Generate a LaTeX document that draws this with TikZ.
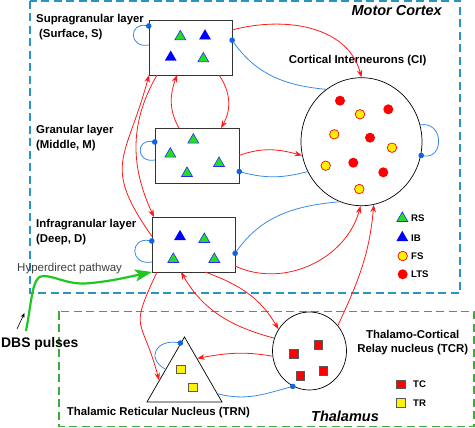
\documentclass[tikz,border=0pt]{standalone}
\usepackage{fontspec}
\setmainfont{Liberation Sans}
\usetikzlibrary{arrows.meta, shapes.geometric, positioning}

\definecolor{ctxblue}{HTML}{2A93C0}
\definecolor{thgreen}{HTML}{3CAA3C}
\definecolor{inhblue}{HTML}{3A8AE6}
\definecolor{dotblue}{HTML}{0F64E6}
\definecolor{excred}{HTML}{FF1A1A}
\definecolor{rsgreen}{HTML}{22DD22}
\definecolor{hypgreen}{HTML}{1FC81F}

\begin{document}
\begin{tikzpicture}[x=1pt, y=-1pt,
    layerbox/.style={draw=black!80, line width=0.9pt, minimum width=83pt, minimum height=55pt, inner sep=0pt, outer sep=0pt},
    exc/.style={excred, line width=0.8pt, -{Stealth[length=7.5pt, width=5.5pt]}},
    inh/.style={inhblue, line width=0.8pt, shorten >=-2.5pt, -{Circle[length=5.5pt, color=dotblue]}},
    rsn/.style={regular polygon, regular polygon sides=3, minimum size=12.7pt, inner sep=0pt, fill=rsgreen, draw=blue!85, line width=0.6pt},
    ibn/.style={regular polygon, regular polygon sides=3, minimum size=12.7pt, inner sep=0pt, fill=blue, draw=blue},
    fsn/.style={circle, minimum size=9.5pt, inner sep=0pt, fill=yellow, draw=red, line width=0.7pt},
    ltsn/.style={circle, minimum size=10pt, inner sep=0pt, fill=red},
    tcn/.style={rectangle, minimum size=8.5pt, inner sep=0pt, fill=red, draw=black!65, line width=0.8pt},
    trnn/.style={rectangle, minimum size=8.5pt, inner sep=0pt, fill=yellow, draw=black!65, line width=0.8pt},
    lbl/.style={font=\fontsize{11.4}{15}\selectfont\bfseries, inner sep=0pt},
    leg/.style={font=\fontsize{9.6}{11}\selectfont\bfseries, inner sep=0pt, anchor=west},
    region/.style={line width=1.1pt, dash pattern=on 8pt off 4.5pt}
]
    \useasboundingbox (0,0) rectangle (475,428);

    % Regions
    \draw[region, ctxblue] (30,1) rectangle (460,293);
    \draw[region, thgreen] (59,311.5) rectangle (474,426.5);
    \node[font=\fontsize{14.5}{17}\selectfont\bfseries\itshape, inner sep=0pt, anchor=east] (MC) at (442,10.5) {Motor Cortex};
    \node[font=\fontsize{14.5}{17}\selectfont\bfseries\itshape, inner sep=0pt] (TH) at (345,416) {Thalamus};

    % Cortical layers
    \node[layerbox] (S) at (190.5,47.5) {};
    \node[layerbox, minimum width=84pt] (M) at (197,155.5) {};
    \node[layerbox] (D) at (193.5,244.5) {};
    \node[lbl, anchor=west, align=left] (Slbl) at (36,27) {Supragranular layer\\\hspace*{3pt}(Surface, S)};
    \node[lbl, anchor=west, align=left] (Mlbl) at (36,138.5) {Granular layer\\(Middle, M)};
    \node[lbl, anchor=west, align=left] (Dlbl) at (36,232) {Infragranular layer\\(Deep, D)};

    % Neurons in the layers
    \node[rsn] (s1) at (180.3,36.7) {};
    \node[ibn] (s2) at (205,36) {};
    \node[ibn] (s3) at (170.7,57.3) {};
    \node[rsn] (s4) at (203.3,58.7) {};
    \node[rsn] (m1) at (193.3,140) {};
    \node[rsn] (m2) at (170.3,154) {};
    \node[rsn] (m3) at (219,163.3) {};
    \node[rsn] (m4) at (187,173.3) {};
    \node[ibn] (d1) at (180,236.7) {};
    \node[rsn] (d2) at (204.3,239.3) {};
    \node[rsn] (d3) at (173.3,259.3) {};
    \node[rsn] (d4) at (214.3,259.3) {};

    % Cortical interneurons
    \node[ellipse, draw, line width=0.7pt, minimum width=121pt, minimum height=128pt, inner sep=0pt] (CI) at (361.5,141.7) {};
    \node[lbl] (CIlbl) at (357.7,60.5) {Cortical Interneurons (CI)};
    \node[ltsn] (c1) at (340,100.7) {};
    \node[ltsn] (c2) at (388.3,109.3) {};
    \node[ltsn] (c3) at (370,137.7) {};
    \node[ltsn] (c4) at (353.3,162.7) {};
    \node[ltsn] (c5) at (383.3,172.3) {};
    \node[fsn] (c6) at (360,114.3) {};
    \node[fsn] (c7) at (334.3,134.3) {};
    \node[fsn] (c8) at (392,147.7) {};
    \node[fsn] (c9) at (325.7,165.7) {};
    \node[fsn] (c10) at (359.3,189) {};

    % Legend for the cortex
    \node[rsn] (kRS) at (402.3,218.3) {};
    \node[ibn] (kIB) at (402.3,237.7) {};
    \node[fsn] (kFS) at (402.7,256) {};
    \node[ltsn] (kLTS) at (402.7,274.3) {};
    \node[leg] (tRS) at (411,218.3) {RS};
    \node[leg] (tIB) at (411,237.7) {IB};
    \node[leg] (tFS) at (411,256) {FS};
    \node[leg] (tLTS) at (411,274.3) {LTS};

    % Thalamus
    \node[ellipse, draw, line width=0.7pt, minimum width=74pt, minimum height=78pt, inner sep=0pt] (TCR) at (309.5,351) {};
    \node[lbl, align=center, font=\fontsize{11.4}{14}\selectfont\bfseries] (TCRlbl) at (412.7,343) {Thalamo-Cortical\\Relay nucleus (TCR)};
    \node[tcn] (t1) at (294,353.7) {};
    \node[tcn] (t2) at (318.3,344.7) {};
    \node[tcn] (t3) at (300.3,375.7) {};
    \node[tcn] (t4) at (323.3,370.7) {};
    \node[regular polygon, regular polygon sides=3, draw, line width=0.7pt, minimum size=86.6pt, inner sep=0pt] (TRN) at (184.5,380.3) {};
    \node[lbl, anchor=west] (TRNlbl) at (66.7,413) {Thalamic Reticular Nucleus (TRN)};
    \node[trnn] (r1) at (181,369.3) {};
    \node[trnn] (r2) at (192.7,387.3) {};
    \node[tcn] (kTC) at (401,384.3) {};
    \node[trnn] (kTR) at (401,402.7) {};
    \node[leg] (tTC) at (413,384.3) {TC};
    \node[leg] (tTR) at (413,402.7) {TR};

    % Self loops
    \draw[inh] ([yshift=-25pt]S.north west) to[out=190, in=170, looseness=2.8] ([yshift=-6pt]S.north west);
    \draw[inh] ([yshift=-32pt]M.north west) to[out=190, in=170, looseness=2.8] ([yshift=-14pt]M.north west);
    \draw[inh] ([yshift=-45pt]D.north west) to[out=190, in=170, looseness=2.8] ([yshift=-24pt]D.north west);
    \draw[inh] (CI.16) to[out=10, in=-10, looseness=2] (CI.-13);
    \draw[inh] (TRN.150) to[out=150, in=170, looseness=2] (TRN.96);

    % Connections inside the cortex
    \draw[exc] ([yshift=-10pt]S.north east) to[out=15, in=105] (CI.north);
    \draw[inh] (CI.124) to[out=175, in=-55] ([yshift=-20pt]S.north east);
    \draw[exc] ([xshift=-13pt]S.south east) to[out=-55, in=60] ([xshift=-18pt]M.north east);
    \draw[exc] ([xshift=24pt]M.north west) to[out=120, in=-110] ([xshift=28pt]S.south west);
    \draw[exc] (M.east) to[out=20, in=165] (CI.193);
    \draw[inh] (CI.209) to[out=195, in=-15] ([yshift=-16pt]M.east);
    \draw[exc] ([yshift=8pt]D.west) to[out=125, in=-105, looseness=1.4] (S.south west);
    \draw[exc] ([xshift=8pt]S.south west) to[out=-120, in=115] ([xshift=2pt]D.north west);
    \draw[exc] ([yshift=6pt]D.south east) to[out=-25, in=-105] ([xshift=-1pt]CI.south);
    \draw[inh] (CI.250) to[out=185, in=55] ([yshift=-9pt]D.east);

    % Connections with the thalamus
    \draw[exc] ([xshift=5pt]D.south west) to[out=-115, in=105, looseness=1.6] (TRN.180);
    \draw[exc] (TCR.160) to[out=165, in=-60] ([xshift=29pt]D.south west);
    \draw[exc] ([xshift=53pt]D.south west) to[out=-20, in=120] (TCR.145);
    \draw[exc] (TCR.188) to[out=170, in=10] (TRN.60);
    \draw[exc] (TCR.42) to[out=65, in=-95] (CI.-79);
    \draw[inh] (TRN.-22) to[out=-15, in=195] (TCR.245);

    % DBS input
    \node[font=\fontsize{13.9}{16}\selectfont\bfseries, inner sep=0pt, anchor=west] (DBS) at (1,344) {DBS pulses};
    \node[font=\fontsize{11.5}{14}\selectfont, text=black!75, inner sep=0pt, anchor=west] (HDlbl) at (17,269) {Hyperdirect pathway};
    \coordinate (hd) at (26,331);
    \coordinate (pin) at (17,329);
    \coordinate (pout) at (24.5,313);
    \draw[-{Stealth[length=5pt, width=4pt]}, line width=0.6pt] (pin) -- (pout);
    \draw[hypgreen, line width=2.2pt, -{Stealth[length=17pt, width=12pt, inset=4pt]}] (hd) .. controls (32,300) and (32,276) .. (43,276) .. controls (55,276) and (66,284) .. (85,283.5) .. controls (108,282) and (128,277) .. (D.south west);
\end{tikzpicture}
\end{document}
